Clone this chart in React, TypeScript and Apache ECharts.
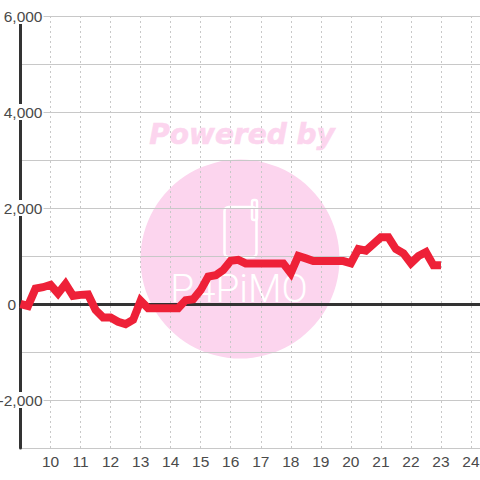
import React, { useEffect, useRef } from "react";
import * as echarts from "echarts";

const hours = [9, 9.25, 9.5, 9.75, 10, 10.25, 10.5, 10.75, 11, 11.25, 11.5, 11.75, 12, 12.25, 12.5, 12.75, 13, 13.25, 13.5, 13.75, 14, 14.25, 14.5, 14.75, 15, 15.25, 15.5, 15.75, 16, 16.25, 16.5, 16.75, 17, 17.25, 17.5, 17.75, 18, 18.25, 18.5, 18.75, 19, 19.25, 19.5, 19.75, 20, 20.25, 20.5, 20.75, 21, 21.25, 21.5, 21.75, 22, 22.25, 22.5, 22.75, 23];
const values = [0, -40, 320, 350, 400, 220, 420, 170, 190, 200, -125, -280, -280, -370, -420, -330, 70, -90, -90, -90, -90, -90, 80, 100, 290, 570, 600, 710, 900, 920, 845, 845, 845, 845, 845, 845, 640, 1000, 950, 895, 895, 895, 895, 895, 850, 1145, 1110, 1250, 1390, 1390, 1145, 1055, 850, 1000, 1080, 805, 805];
const labelledYTicks = [6000, 4000, 2000, -2000];

const FONT = "'Liberation Sans', Arial, sans-serif";
const PINK = "#fcd5ee";
const TEXT = "#4a4a4a";

export default function App() {
  const ref = useRef<HTMLDivElement>(null);
  useEffect(() => {
    document.body.style.margin = "0";
    const chart = echarts.init(ref.current!, undefined, { renderer: "svg" });
    chart.setOption({
      animation: false,
      backgroundColor: "#fff",
      grid: { left: 20.5, right: 0, top: 16, bottom: 32, containLabel: false, outerBoundsMode: "none" },
      xAxis: [
        {
          type: "value", min: 9, max: 24.3, interval: 1, position: "bottom",
          axisLine: { show: false, onZero: false },
          axisTick: { show: false },
          axisLabel: {
            margin: 5, fontSize: 15.5, color: TEXT, fontFamily: FONT,
            showMinLabel: false, showMaxLabel: false,
            formatter: (v: number) => String(v),
          },
          splitLine: { show: true, lineStyle: { color: "#c8c8c8", width: 1, type: [2, 3] } },
        },
        {
          type: "value", min: 9, max: 24.3, interval: 1, position: "bottom",
          axisLine: { show: true, onZero: true, lineStyle: { color: "#333", width: 3 } },
          axisTick: { show: false },
          axisLabel: { show: false },
          splitLine: { show: false },
        },
      ],
      yAxis: {
        type: "value", min: -3000, max: 6000, interval: 1000,
        axisLine: { show: true, onZero: false, lineStyle: { color: "#333", width: 3 } },
        axisTick: { show: false },
        axisLabel: {
          inside: true, margin: 23, align: "right", fontSize: 15.5, color: TEXT, fontFamily: FONT,
          showMinLabel: false,
          formatter: (v: number) => {
            if (v === 0) return "{z|0}";
            if (labelledYTicks.includes(v)) return `{n|${v.toLocaleString("en-US")}}`;
            return "";
          },
          rich: {
            n: { backgroundColor: "#fff", fontSize: 15.5, color: TEXT, fontFamily: FONT, lineHeight: 16, padding: [0, 1, 0, 1] },
            z: { fontSize: 15.5, color: TEXT, fontFamily: FONT, lineHeight: 16, padding: [0, 27.5, 0, 0] },
          },
        },
        splitLine: { show: true, lineStyle: { color: "#c8c8c8", width: 1 } },
      },
      graphic: [
        { type: "circle", z: -5, silent: true, shape: { cx: 240, cy: 259, r: 99.5 }, style: { fill: PINK } },
        {
          type: "text", z: -4, silent: true, x: 242, y: 134,
          style: { text: "Powered by", fill: PINK, stroke: PINK, lineWidth: 0.6, font: "italic bold 28px 'DejaVu Sans'", align: "center", verticalAlign: "middle" },
        },
        { type: "rect", z: -4, silent: true, shape: { x: 224.5, y: 207, width: 32, height: 50, r: 4 }, style: { fill: "none", stroke: "#fff", lineWidth: 2.5 } },
        { type: "rect", z: -4, silent: true, shape: { x: 252, y: 200, width: 5, height: 20, r: 2 }, style: { fill: "none", stroke: "#fff", lineWidth: 2.5 } },
        {
          type: "text", z: -4, silent: true, x: 239, y: 289, scaleX: 1.02,
          style: { text: "P4PiMO", fill: "#fff", font: "300 38px 'Roboto'", align: "center", verticalAlign: "middle" },
        },
      ],
      series: [
        {
          type: "line",
          xAxisIndex: 0,
          data: hours.map((h, i) => [h, values[i]]),
          showSymbol: false,
          symbol: "none",
          lineStyle: { color: "#ee2138", width: 8, join: "miter", cap: "butt" },
          z: 5,
        },
      ],
    });
    return () => chart.dispose();
  }, []);
  return <div ref={ref} style={{ width: 480, height: 480 }} />;
}
